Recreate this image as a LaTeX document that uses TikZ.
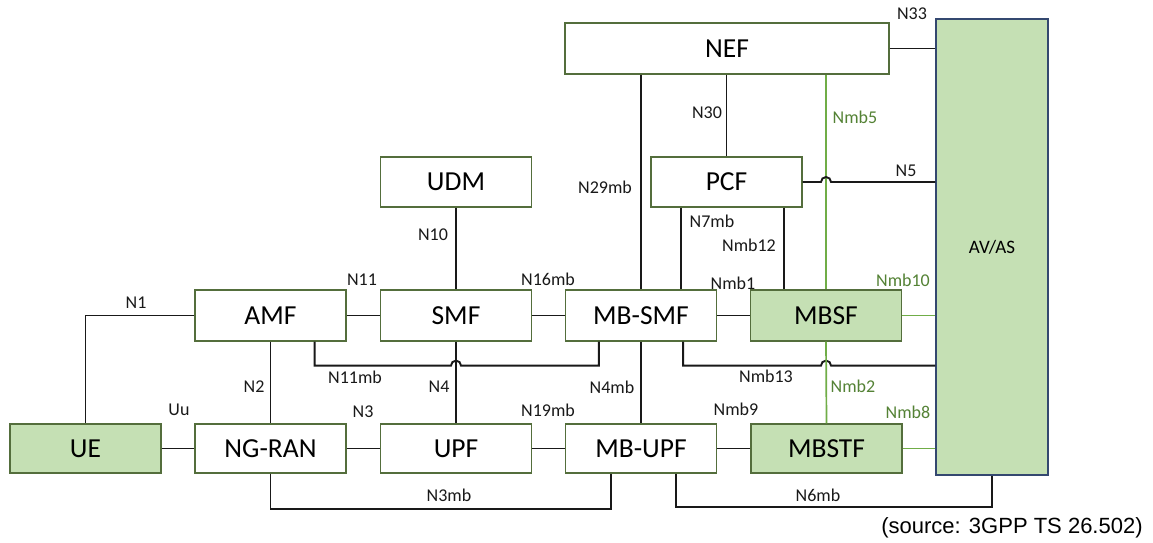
\documentclass[tikz,border=0pt]{standalone}
\usepackage{fontspec}
\setmainfont{Carlito}
\newfontfamily\srcfont{Liberation Sans}
\definecolor{boxgreen}{RGB}{84,110,60}
\definecolor{fillgreen}{RGB}{197,224,180}
\definecolor{asblue}{RGB}{52,72,112}
\definecolor{linegreen}{RGB}{112,173,71}
\definecolor{labgreen}{RGB}{84,130,53}
\tikzset{
  nfbox/.style={draw=boxgreen, line width=1.2pt, fill=white, minimum width=151pt, minimum height=50pt, inner sep=0pt, font=\fontsize{27.5}{30}\selectfont},
  nfgreen/.style={nfbox, fill=fillgreen},
  conn/.style={draw=black!90, line width=1.9pt},
  gconn/.style={draw=linegreen, line width=1.7pt},
  lab/.style={font=\fontsize{18}{20}\selectfont, inner sep=0pt, text=black!90},
  glab/.style={lab, text=labgreen},
}
\begin{document}
\begin{tikzpicture}[x=1pt,y=-1pt]
\useasboundingbox (0,0) rectangle (1153,543);
\fill[white] (0,0) rectangle (1153,543);
% nodes
\node[nfbox, minimum width=324pt, minimum height=51pt] (NEF) at (727,48.5) {NEF};
\node[nfgreen, draw=asblue, minimum width=112pt, minimum height=456pt, font=\fontsize{19}{21}\selectfont] (AVAS) at (992,247) {AV/AS};
\node[nfbox] (UDM) at (456,182) {UDM};
\node[nfbox] (PCF) at (726.5,182) {PCF};
\node[nfbox, minimum height=51pt] (AMF) at (270.5,315.5) {AMF};
\node[nfbox, minimum height=51pt] (SMF) at (456,315.5) {SMF};
\node[nfbox, minimum height=51pt] (MBSMF) at (641,315.5) {MB-SMF};
\node[nfgreen, minimum height=51pt] (MBSF) at (826,315.5) {MBSF};
\node[nfgreen, minimum height=49pt] (UE) at (85.5,448.5) {UE};
\node[nfbox, minimum height=49pt] (NGRAN) at (270.5,448.5) {NG-RAN};
\node[nfbox, minimum height=49pt] (UPF) at (456,448.5) {UPF};
\node[nfbox, minimum height=49pt] (MBUPF) at (641,448.5) {MB-UPF};
\node[nfgreen, minimum height=49pt] (MBSTF) at (826.5,448.5) {MBSTF};
% helper coordinates on node borders
\coordinate (n11s) at ([xshift=-32pt]AMF.south east);
\coordinate (n11e) at ([xshift=34pt]MBSMF.south west);
\coordinate (n13s) at ([xshift=-34pt]MBSMF.south east);
\coordinate (n7s) at ([xshift=31pt]PCF.south west);
\coordinate (n12s) at ([xshift=-19pt]PCF.south east);
\coordinate (n3mbe) at ([xshift=-30pt]MBUPF.south);
\coordinate (n6mbs) at ([xshift=35pt]MBUPF.south);
% connectors
\draw[conn] (NEF.east) -- (NEF.east -| AVAS.west);
\draw[conn] (NEF.south -| MBSMF.north) -- (MBSMF.north);
\draw[conn] (NEF.south -| PCF.north) -- (PCF.north);
\draw[gconn] (NEF.south -| MBSF.north) -- (MBSF.north);
\draw[conn] (PCF.east) -- ([xshift=-5pt]PCF.east -| MBSF.north) arc[start angle=180, end angle=360, radius=5] -- (PCF.east -| AVAS.west);
\draw[conn] (n7s) -- (n7s |- MBSMF.north);
\draw[conn] (n12s) -- (n12s |- MBSF.north);
\draw[conn] (UDM.south) -- (SMF.north);
\draw[conn] (AMF.west) -- (AMF.west -| UE.north) -- (UE.north);
\draw[conn] (AMF.east) -- (SMF.west);
\draw[conn] (SMF.east) -- (MBSMF.west);
\draw[conn] (MBSMF.east) -- (MBSF.west);
\draw[gconn] (MBSF.east) -- (MBSF.east -| AVAS.west);
\draw[conn] (AMF.south) -- (NGRAN.north);
\draw[conn] (n11s) -- ++(0,24) coordinate (n11a) -- ([xshift=-5pt]n11a -| SMF.south) arc[start angle=180, end angle=360, radius=5] -- (n11a -| n11e) -- (n11e);
\draw[conn] (SMF.south) -- (UPF.north);
\draw[conn] (MBSMF.south) -- (MBUPF.north);
\draw[conn] (n13s) -- ++(0,24) coordinate (n13a) -- ([xshift=-5pt]n13a -| MBSF.south) arc[start angle=180, end angle=360, radius=5] -- (n13a -| AVAS.west);
\draw[gconn] (MBSF.south) -- (MBSTF.north);
\draw[conn] (UE.east) -- (NGRAN.west);
\draw[conn] (NGRAN.east) -- (UPF.west);
\draw[conn] (UPF.east) -- (MBUPF.west);
\draw[conn] (MBUPF.east) -- (MBSTF.west);
\draw[gconn] (MBSTF.east) -- (MBSTF.east -| AVAS.west);
\draw[conn] (NGRAN.south) -- ++(0,35) -| (n3mbe);
\draw[conn] (n6mbs) -- ++(0,33) -| (AVAS.south);
% labels
\node[lab] (lN33) at (912,14) {N33};
\node[lab] (lN30) at (707,113) {N30};
\node[glab] (lNmb5) at (855,117) {Nmb5};
\node[lab] (lN29mb) at (605,187) {N29mb};
\node[lab] (lN5) at (906,171) {N5};
\node[lab] (lN7mb) at (712,221) {N7mb};
\node[lab] (lNmb12) at (749,245) {Nmb12};
\node[lab] (lN10) at (433,235) {N10};
\node[lab] (lN1) at (136,303) {N1};
\node[lab] (lN11) at (362,280) {N11};
\node[lab] (lN16mb) at (548,279) {N16mb};
\node[lab] (lNmb1) at (733,283) {Nmb1};
\node[glab] (lNmb10) at (903,280) {Nmb10};
\node[lab] (lN2) at (254,387) {N2};
\node[lab] (lN11mb) at (355,377) {N11mb};
\node[lab] (lN4) at (439,387) {N4};
\node[lab] (lN4mb) at (612,387) {N4mb};
\node[lab] (lNmb13) at (766,376) {Nmb13};
\node[glab] (lNmb2) at (853,386) {Nmb2};
\node[lab] (lUu) at (179,410) {Uu};
\node[lab] (lN3) at (363,412) {N3};
\node[lab] (lN19mb) at (548,410) {N19mb};
\node[lab] (lNmb9) at (736,409) {Nmb9};
\node[glab] (lNmb8) at (908,412) {Nmb8};
\node[lab] (lN3mb) at (449,495) {N3mb};
\node[lab] (lN6mb) at (818,495) {N6mb};
\node[inner sep=0pt, font=\srcfont\fontsize{22}{24}\selectfont] (src) at (1012,528) {(source: 3GPP TS 26.502)};
\end{tikzpicture}
\end{document}
